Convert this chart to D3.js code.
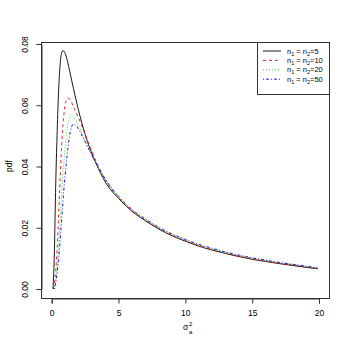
<!DOCTYPE html>
<html><head><meta charset="utf-8">
<script src="https://cdn.jsdelivr.net/npm/d3@7"></script>
<style>body{margin:0;background:#fff}svg{display:block}text{font-family:"Liberation Sans",Arial,sans-serif;fill:#000}</style>
</head><body><svg id="c" width="350" height="350"></svg>
<script>
// estimated curve data
const xBlack = [0.1,0.2,0.3,0.4,0.5,0.6,0.7,0.8,0.9,1.0,1.2,1.5,2,2.5,3,3.5,4,5,6,7,8,9,10,11,12,13,14,15,16,17,18,19,19.9];
const yBlack = [0,0.012,0.034,0.05,0.063,0.0715,0.0762,0.0777,0.0777,0.0770,0.0740,0.0680,0.0585,0.0505,0.0443,0.0393,0.0350,0.0296,0.0254,0.0223,0.0196,0.0174,0.0156,0.0140,0.0127,0.0116,0.0106,0.0097,0.0090,0.0083,0.0077,0.0071,0.0066];
const xRed = [0.1,0.2,0.3,0.4,0.5,0.6,0.7,0.8,0.9,1.0,1.1,1.2,1.35,1.6,2,2.5,3,3.5,4,5,6,7,8,9,10,11,12,13,14,15,16,17,18,19,19.9];
const yRed = [0,0.002,0.006,0.013,0.022,0.033,0.043,0.051,0.0565,0.0600,0.0617,0.0623,0.0620,0.0598,0.0560,0.0505,0.0450,0.0400,0.0357,0.0299,0.0256,0.0225,0.0198,0.0176,0.0158,0.0142,0.0129,0.0117,0.0107,0.0099,0.0091,0.0084,0.0078,0.0072,0.0067];
const xGreen = [0.2,0.3,0.4,0.5,0.6,0.7,0.8,0.9,1.0,1.1,1.2,1.3,1.42,1.55,1.8,2.2,2.6,3,3.5,4,5,6,7,8,9,10,11,12,13,14,15,16,17,18,19,19.9];
const yGreen = [0,0.003,0.007,0.013,0.020,0.028,0.035,0.041,0.046,0.0505,0.0537,0.0557,0.0567,0.0565,0.0552,0.0515,0.0475,0.0437,0.0396,0.0358,0.0301,0.0258,0.0227,0.0200,0.0178,0.0160,0.0144,0.0131,0.0119,0.0109,0.0100,0.0093,0.0086,0.0080,0.0074,0.0068];
const xBlue = [0.2,0.3,0.4,0.5,0.6,0.7,0.8,0.9,1.0,1.1,1.2,1.3,1.4,1.5,1.6,1.75,2.0,2.4,2.8,3.2,3.6,4,5,6,7,8,9,10,11,12,13,14,15,16,17,18,19,19.9];
const yBlue = [0,0.002,0.005,0.009,0.014,0.020,0.026,0.032,0.037,0.0415,0.0455,0.0490,0.0515,0.0531,0.0538,0.0536,0.0523,0.0490,0.0455,0.0420,0.0390,0.0360,0.0303,0.0260,0.0229,0.0202,0.0180,0.0162,0.0146,0.0133,0.0121,0.0111,0.0102,0.0094,0.0087,0.0081,0.0075,0.0069];
const xTicks = [0,5,10,15,20];
const yTicks = [0,0.02,0.04,0.06,0.08];
const legendLabels = ["5","10","20","50"];

const svg = d3.select("#c");
const x = d3.scaleLinear().domain([0,20]).range([51.7,319]);
const y = d3.scaleLinear().domain([0,0.08]).range([289,44]);
const box = {l:41,r:329,t:42,b:298};

const series = [
  {xs:xBlack, ys:yBlack, color:"#000000", dash:null},
  {xs:xRed, ys:yRed, color:"#FF0000", dash:"3,3"},
  {xs:xGreen, ys:yGreen, color:"#00DD00", dash:"1,2"},
  {xs:xBlue, ys:yBlue, color:"#0000FF", dash:"1,2,3,2"}
];

const line = d3.line().x(d=>x(d[0])).y(d=>y(d[1])).curve(d3.curveMonotoneX);
series.forEach(s=>{
  svg.append("path").datum(s.xs.map((v,i)=>[v,s.ys[i]]))
    .attr("d",line).attr("fill","none").attr("stroke",s.color)
    .attr("stroke-width",0.9).attr("stroke-dasharray",s.dash);
});

// box
svg.append("rect").attr("x",box.l+0.5).attr("y",box.t+0.5)
  .attr("width",box.r-box.l).attr("height",box.b-box.t)
  .attr("fill","none").attr("stroke","#333").attr("stroke-width",1);

// x axis
const xa = svg.append("g").attr("transform",`translate(0,${box.b+0.5})`)
  .call(d3.axisBottom(x).tickValues(xTicks).tickSize(5).tickPadding(6).tickFormat(d3.format("d")));
xa.select(".domain").attr("stroke","#333");
xa.selectAll(".tick line").attr("stroke","#333");
xa.selectAll("text").attr("font-size","8.5px").attr("font-family","Liberation Sans, Arial, sans-serif").attr("fill","#000");

// y axis
const ya = svg.append("g").attr("transform",`translate(${box.l+0.5},0)`)
  .call(d3.axisLeft(y).tickValues(yTicks).tickSize(5).tickFormat(d3.format(".2f")));
ya.select(".domain").attr("stroke","#333");
ya.selectAll(".tick line").attr("stroke","#333");
ya.selectAll(".tick text").each(function(){
  d3.select(this).attr("font-size","8.5px").attr("font-family","Liberation Sans, Arial, sans-serif").attr("fill","#000")
    .attr("text-anchor","middle")
    .attr("transform","translate(-16,0) rotate(-90)").attr("x",0).attr("y",0).attr("dy","0.35em");
});

// axis titles
svg.append("text").attr("transform","translate(9,166) rotate(-90)")
  .attr("text-anchor","middle").attr("font-size","8.5px").attr("dy","0.35em").text("pdf");
const xt = svg.append("text").attr("x",183).attr("y",330).attr("font-size","8.5px");
xt.append("tspan").text("σ");
svg.append("text").attr("x",189).attr("y",326).attr("font-size","6px").text("2");
svg.append("text").attr("x",189).attr("y",334).attr("font-size","6px").text("a");

// legend
const lg = svg.append("g");
lg.append("rect").attr("x",257.5).attr("y",box.t+0.5).attr("width",box.r-257).attr("height",52)
  .attr("fill","#fff").attr("stroke","#333");
series.forEach((s,i)=>{
  const yy = 51 + i*9.4;
  lg.append("line").attr("x1",263).attr("x2",281).attr("y1",yy).attr("y2",yy)
    .attr("stroke",s.color).attr("stroke-width",0.9).attr("stroke-dasharray",s.dash);
  const t = lg.append("text").attr("x",287).attr("y",yy).attr("dy","0.35em").attr("font-size","7.5px");
  t.append("tspan").text("n");
  t.append("tspan").attr("font-size","5.5px").attr("dy","2").text("1");
  t.append("tspan").attr("dy","-2").text(" = n");
  t.append("tspan").attr("font-size","5.5px").attr("dy","2").text("2");
  t.append("tspan").attr("dy","-2").text("=" + legendLabels[i]);
});
</script></body></html>
